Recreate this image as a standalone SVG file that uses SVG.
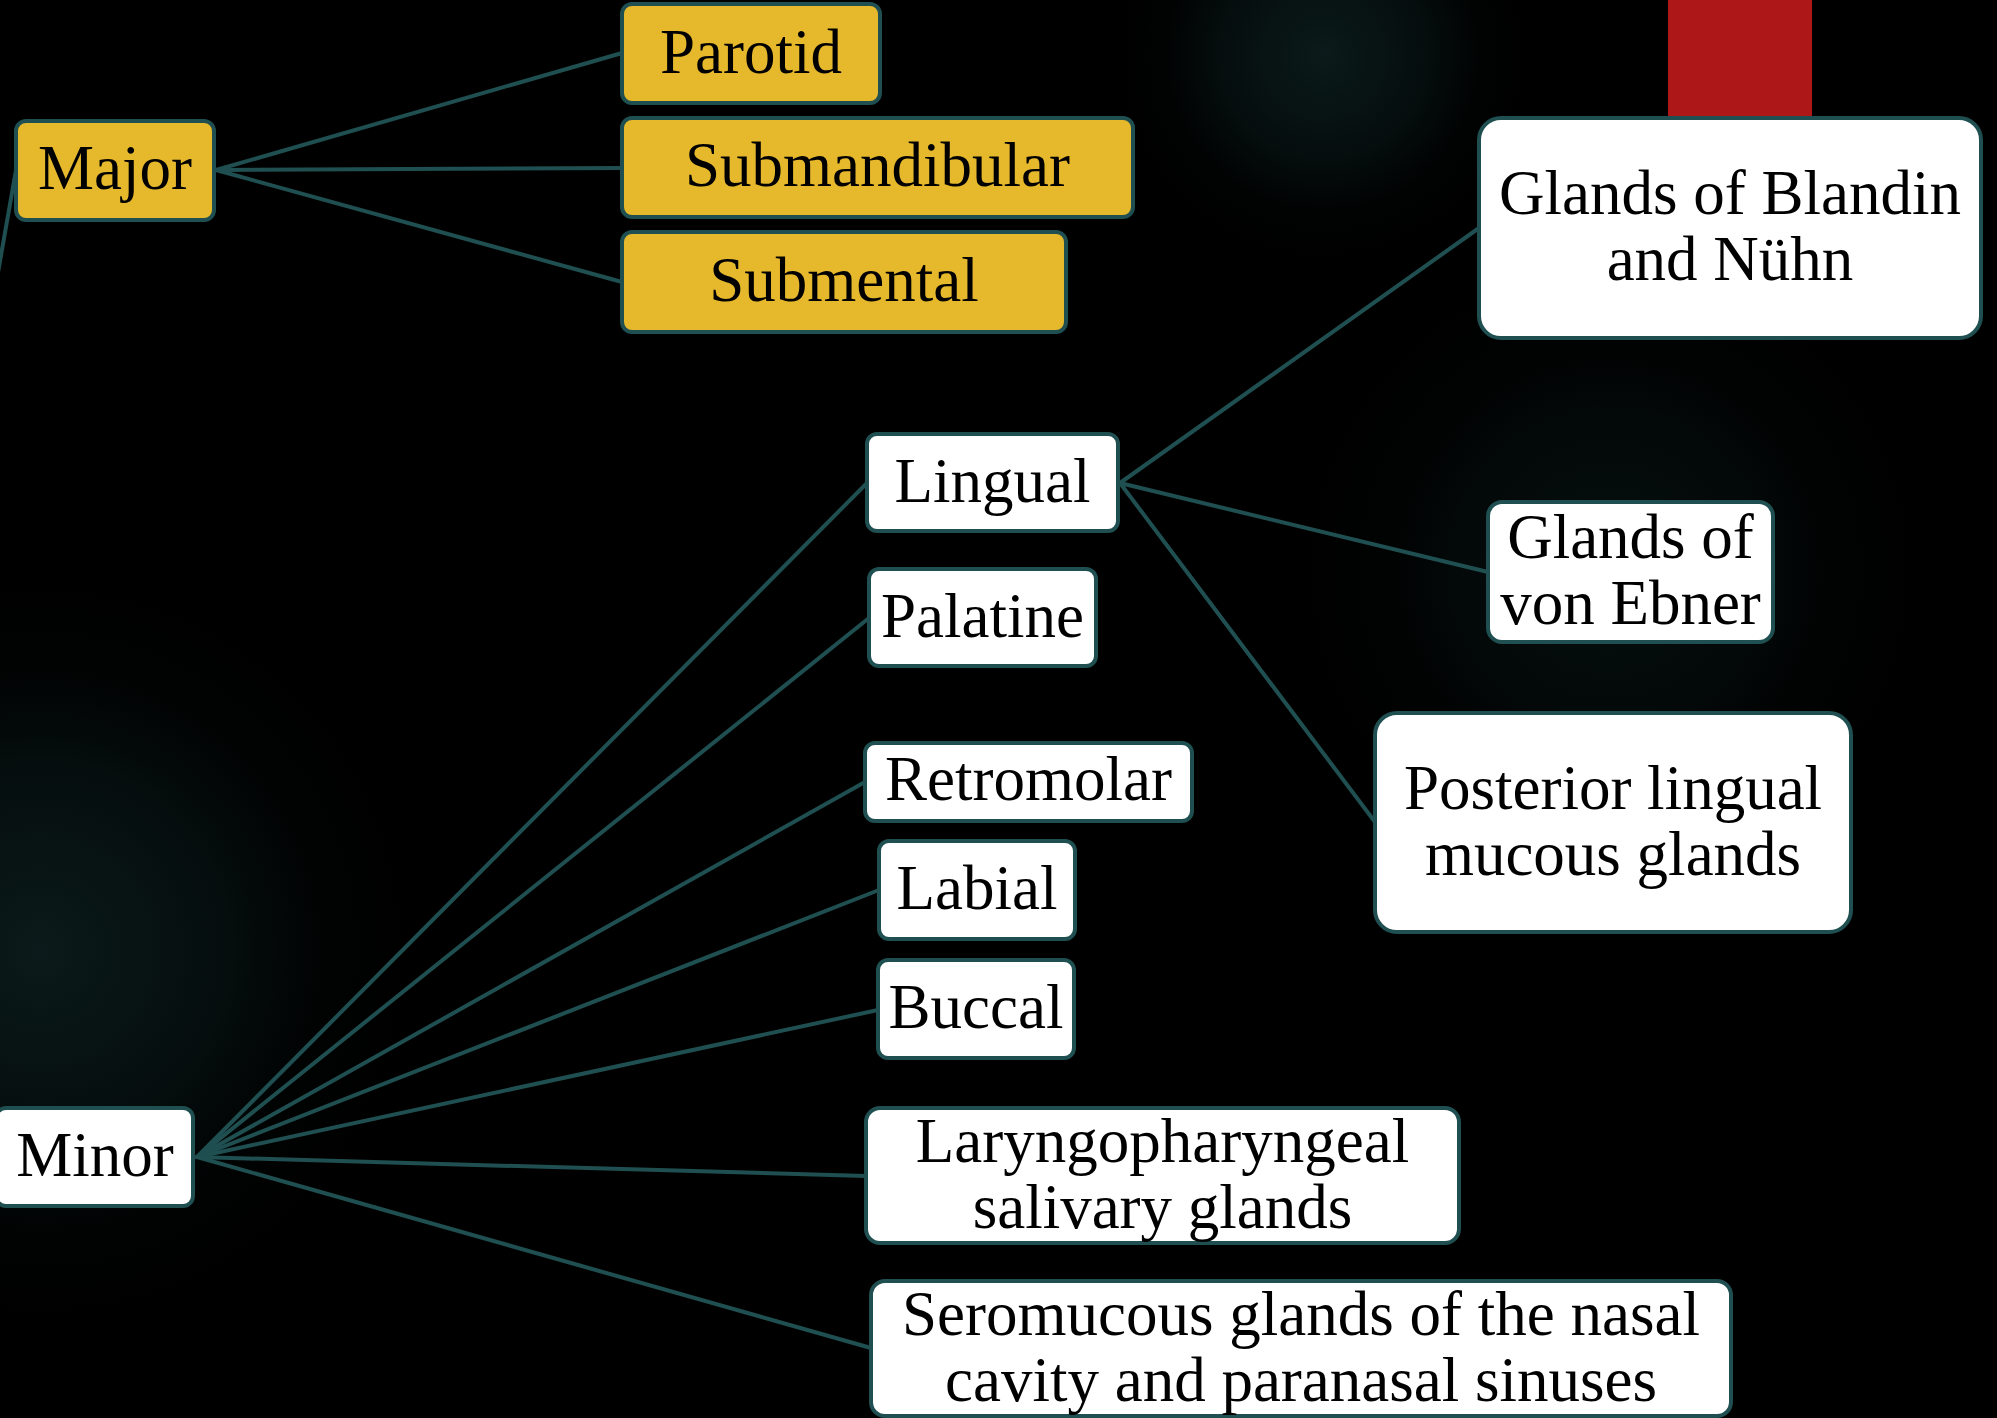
<svg xmlns="http://www.w3.org/2000/svg" width="1997" height="1418" viewBox="0 0 1997 1418">
<style>
.box{stroke:#1f4f50;stroke-width:4}
.gold{fill:#e6b82c}
.white{fill:#ffffff}
.lbl{font-family:"Liberation Serif","Times New Roman",serif;font-size:63px;fill:#000000;text-anchor:middle}
.conn line{stroke:#1f4f50;stroke-width:4;stroke-linecap:round}
</style>
<defs>
<radialGradient id="glow">
<stop offset="0" stop-color="#0b1a1a"/>
<stop offset="0.5" stop-color="#050d0d"/>
<stop offset="1" stop-color="#000000" stop-opacity="0"/>
</radialGradient>
</defs>
<rect x="0" y="0" width="1997" height="1418" fill="#000000"/>
<circle cx="1323" cy="55" r="210" fill="url(#glow)"/>
<circle cx="40" cy="950" r="380" fill="url(#glow)"/>
<circle cx="1610" cy="570" r="320" fill="url(#glow)" opacity="0.6"/>
<rect x="1668" y="0" width="144" height="130" fill="#ae1717"/>
<g class="conn" id="connectors">
<line x1="16" y1="170" x2="-10" y2="318"/>
<line x1="216" y1="170" x2="622" y2="53"/>
<line x1="216" y1="170" x2="622" y2="168"/>
<line x1="216" y1="170" x2="622" y2="282"/>
<line x1="197" y1="1157" x2="867" y2="483"/>
<line x1="197" y1="1157" x2="869" y2="618"/>
<line x1="197" y1="1157" x2="865" y2="782"/>
<line x1="197" y1="1157" x2="879" y2="890"/>
<line x1="197" y1="1157" x2="878" y2="1010"/>
<line x1="197" y1="1157" x2="866" y2="1176"/>
<line x1="197" y1="1157" x2="871" y2="1348"/>
<line x1="1120" y1="483" x2="1479" y2="228"/>
<line x1="1120" y1="483" x2="1488" y2="572"/>
<line x1="1120" y1="483" x2="1375" y2="822"/>
</g>
<g id="major"><rect class="box gold" x="16" y="121" width="198" height="99" rx="10"/><text class="lbl" x="115" y="189">Major</text></g>
<g id="parotid"><rect class="box gold" x="622" y="4" width="258" height="99" rx="10"/><text class="lbl" x="751" y="73">Parotid</text></g>
<g id="submandibular"><rect class="box gold" x="622" y="118" width="511" height="99" rx="10"/><text class="lbl" x="877.5" y="186">Submandibular</text></g>
<g id="submental"><rect class="box gold" x="622" y="232" width="444" height="100" rx="10"/><text class="lbl" x="844" y="301">Submental</text></g>
<g id="blandin"><rect class="box white" x="1479" y="118" width="502" height="220" rx="22"/><text class="lbl" x="1730" y="214">Glands of Blandin</text><text class="lbl" x="1730" y="280">and Nühn</text></g>
<g id="lingual"><rect class="box white" x="867" y="434" width="251" height="97" rx="10"/><text class="lbl" x="992.5" y="502">Lingual</text></g>
<g id="palatine"><rect class="box white" x="869" y="569" width="227" height="97" rx="10"/><text class="lbl" x="982.5" y="637">Palatine</text></g>
<g id="retromolar"><rect class="box white" x="865" y="743" width="327" height="78" rx="10"/><text class="lbl" x="1028.5" y="800">Retromolar</text></g>
<g id="labial"><rect class="box white" x="879" y="841" width="196" height="98" rx="10"/><text class="lbl" x="977" y="909">Labial</text></g>
<g id="buccal"><rect class="box white" x="878" y="960" width="196" height="98" rx="10"/><text class="lbl" x="976" y="1028">Buccal</text></g>
<g id="minor"><rect class="box white" x="-4" y="1108" width="197" height="98" rx="10"/><text class="lbl" x="95" y="1176">Minor</text></g>
<g id="laryngopharyngeal"><rect class="box white" x="866" y="1108" width="593" height="135" rx="14"/><text class="lbl" x="1162.5" y="1162">Laryngopharyngeal</text><text class="lbl" x="1162.5" y="1228">salivary glands</text></g>
<g id="seromucous"><rect class="box white" x="871" y="1281" width="860" height="135" rx="14"/><text class="lbl" x="1301" y="1335">Seromucous glands of the nasal</text><text class="lbl" x="1301" y="1401">cavity and paranasal sinuses</text></g>
<g id="vonebner"><rect class="box white" x="1488" y="502" width="285" height="140" rx="14"/><text class="lbl" x="1630.5" y="558">Glands of</text><text class="lbl" x="1630.5" y="624">von Ebner</text></g>
<g id="posterior"><rect class="box white" x="1375" y="713" width="476" height="219" rx="22"/><text class="lbl" x="1613" y="809">Posterior lingual</text><text class="lbl" x="1613" y="875">mucous glands</text></g>
</svg>
